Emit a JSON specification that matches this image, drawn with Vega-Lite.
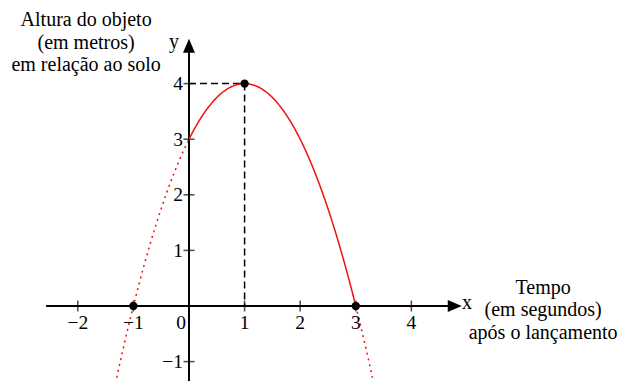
{
  "$schema": "https://vega.github.io/schema/vega-lite/v6.json",
  "width": 621,
  "height": 381,
  "autosize": {"type": "none"},
  "padding": 0,
  "background": "white",
  "config": {"view": {"stroke": null}},
  "datasets": {
    "curve": [
      {"x": -1.3, "y": -1.29, "part": "left", "style": "dotted"},
      {"x": -1.2, "y": -0.84, "part": "left", "style": "dotted"},
      {"x": -1.1, "y": -0.41, "part": "left", "style": "dotted"},
      {"x": -1.0, "y": 0, "part": "left", "style": "dotted"},
      {"x": -0.9, "y": 0.39, "part": "left", "style": "dotted"},
      {"x": -0.8, "y": 0.76, "part": "left", "style": "dotted"},
      {"x": -0.7, "y": 1.11, "part": "left", "style": "dotted"},
      {"x": -0.6, "y": 1.44, "part": "left", "style": "dotted"},
      {"x": -0.5, "y": 1.75, "part": "left", "style": "dotted"},
      {"x": -0.4, "y": 2.04, "part": "left", "style": "dotted"},
      {"x": -0.3, "y": 2.31, "part": "left", "style": "dotted"},
      {"x": -0.2, "y": 2.56, "part": "left", "style": "dotted"},
      {"x": -0.1, "y": 2.79, "part": "left", "style": "dotted"},
      {"x": 0.0, "y": 3, "part": "left", "style": "dotted"},
      {"x": 0.0, "y": 3, "part": "mid", "style": "solid"},
      {"x": 0.1, "y": 3.19, "part": "mid", "style": "solid"},
      {"x": 0.2, "y": 3.36, "part": "mid", "style": "solid"},
      {"x": 0.3, "y": 3.51, "part": "mid", "style": "solid"},
      {"x": 0.4, "y": 3.64, "part": "mid", "style": "solid"},
      {"x": 0.5, "y": 3.75, "part": "mid", "style": "solid"},
      {"x": 0.6, "y": 3.84, "part": "mid", "style": "solid"},
      {"x": 0.7, "y": 3.91, "part": "mid", "style": "solid"},
      {"x": 0.8, "y": 3.96, "part": "mid", "style": "solid"},
      {"x": 0.9, "y": 3.99, "part": "mid", "style": "solid"},
      {"x": 1.0, "y": 4, "part": "mid", "style": "solid"},
      {"x": 1.1, "y": 3.99, "part": "mid", "style": "solid"},
      {"x": 1.2, "y": 3.96, "part": "mid", "style": "solid"},
      {"x": 1.3, "y": 3.91, "part": "mid", "style": "solid"},
      {"x": 1.4, "y": 3.84, "part": "mid", "style": "solid"},
      {"x": 1.5, "y": 3.75, "part": "mid", "style": "solid"},
      {"x": 1.6, "y": 3.64, "part": "mid", "style": "solid"},
      {"x": 1.7, "y": 3.51, "part": "mid", "style": "solid"},
      {"x": 1.8, "y": 3.36, "part": "mid", "style": "solid"},
      {"x": 1.9, "y": 3.19, "part": "mid", "style": "solid"},
      {"x": 2.0, "y": 3, "part": "mid", "style": "solid"},
      {"x": 2.1, "y": 2.79, "part": "mid", "style": "solid"},
      {"x": 2.2, "y": 2.56, "part": "mid", "style": "solid"},
      {"x": 2.3, "y": 2.31, "part": "mid", "style": "solid"},
      {"x": 2.4, "y": 2.04, "part": "mid", "style": "solid"},
      {"x": 2.5, "y": 1.75, "part": "mid", "style": "solid"},
      {"x": 2.6, "y": 1.44, "part": "mid", "style": "solid"},
      {"x": 2.7, "y": 1.11, "part": "mid", "style": "solid"},
      {"x": 2.8, "y": 0.76, "part": "mid", "style": "solid"},
      {"x": 2.9, "y": 0.39, "part": "mid", "style": "solid"},
      {"x": 3.0, "y": 0, "part": "mid", "style": "solid"},
      {"x": 3.0, "y": 0, "part": "right", "style": "dotted"},
      {"x": 3.1, "y": -0.41, "part": "right", "style": "dotted"},
      {"x": 3.2, "y": -0.84, "part": "right", "style": "dotted"},
      {"x": 3.3, "y": -1.29, "part": "right", "style": "dotted"}
    ],
    "axes": [
      {"x": -2.57, "y": 0, "x2": 4.72, "y2": 0},
      {"x": 0, "y": -1.5, "x2": 0, "y2": 4.6}
    ],
    "guides": [
      {"x": 0, "y": 4, "x2": 1, "y2": 4},
      {"x": 1, "y": 4, "x2": 1, "y2": 0}
    ],
    "points": [
      {"x": -1, "y": 0},
      {"x": 1, "y": 4},
      {"x": 3, "y": 0}
    ],
    "xticks": [
      {"x": -2, "y": 0, "label": "−2"},
      {"x": -1, "y": 0, "label": "−1"},
      {"x": 1, "y": 0, "label": "1"},
      {"x": 2, "y": 0, "label": "2"},
      {"x": 3, "y": 0, "label": "3"},
      {"x": 4, "y": 0, "label": "4"}
    ],
    "yticks": [
      {"x": 0, "y": -1, "label": "−1"},
      {"x": 0, "y": 1, "label": "1"},
      {"x": 0, "y": 2, "label": "2"},
      {"x": 0, "y": 3, "label": "3"},
      {"x": 0, "y": 4, "label": "4"}
    ],
    "origin": [{"x": 0, "y": 0, "label": "0"}],
    "xarrow": [{"x": 4.78, "y": 0}],
    "yarrow": [{"x": 0, "y": 4.68}],
    "letters": [
      {"x": 5.0, "y": -0.054, "label": "x"},
      {"x": -0.27, "y": 4.64, "label": "y"}
    ],
    "notes": [
      {"x": -1.85, "y": 5.14, "label": "Altura do objeto\n(em metros)\nem relação ao solo"},
      {"x": 6.37, "y": 0.33, "label": "Tempo\n(em segundos)\napós o lançamento"}
    ]
  },
  "encoding": {
    "x": {"field": "x", "type": "quantitative", "scale": {"domain": [-3.399, 7.77], "nice": false, "zero": false}, "axis": null},
    "y": {"field": "y", "type": "quantitative", "scale": {"domain": [-1.349, 5.504], "nice": false, "zero": false}, "axis": null}
  },
  "layer": [
    {
      "data": {"name": "axes"},
      "mark": {"type": "rule", "color": "black", "strokeWidth": 2},
      "encoding": {"x2": {"field": "x2"}, "y2": {"field": "y2"}}
    },
    {
      "data": {"name": "guides"},
      "mark": {"type": "rule", "color": "black", "strokeWidth": 1.5, "strokeDash": [7, 4]},
      "encoding": {"x2": {"field": "x2"}, "y2": {"field": "y2"}}
    },
    {
      "data": {"name": "xticks"},
      "mark": {"type": "tick", "orient": "vertical", "color": "black", "size": 11, "thickness": 1.5}
    },
    {
      "data": {"name": "yticks"},
      "mark": {"type": "tick", "orient": "horizontal", "color": "black", "size": 11, "thickness": 1.5}
    },
    {
      "data": {"name": "curve"},
      "mark": {"type": "line", "color": "#f01010", "strokeWidth": 1.5, "interpolate": "monotone"},
      "encoding": {
        "detail": {"field": "part"},
        "strokeDash": {"field": "style", "type": "nominal", "scale": {"domain": ["solid", "dotted"], "range": [[1, 0], [2, 4]]}, "legend": null},
        "strokeWidth": {"field": "style", "type": "nominal", "scale": {"domain": ["solid", "dotted"], "range": [1.5, 2]}, "legend": null}
      }
    },
    {
      "data": {"name": "points"},
      "mark": {"type": "point", "shape": "circle", "filled": true, "color": "black", "opacity": 1, "size": 70}
    },
    {
      "data": {"name": "xarrow"},
      "mark": {"type": "point", "shape": "M-1,-0.85L1,0L-1,0.85Z", "filled": true, "color": "black", "opacity": 1, "size": 196}
    },
    {
      "data": {"name": "yarrow"},
      "mark": {"type": "point", "shape": "M0,-1L0.85,1L-0.85,1Z", "filled": true, "color": "black", "opacity": 1, "size": 196}
    },
    {
      "data": {"name": "xticks"},
      "mark": {"type": "text", "font": "Liberation Serif", "fontSize": 19.5, "align": "center", "baseline": "alphabetic", "dy": 23, "color": "black"},
      "encoding": {"text": {"field": "label"}}
    },
    {
      "data": {"name": "yticks"},
      "mark": {"type": "text", "font": "Liberation Serif", "fontSize": 19.5, "align": "right", "baseline": "alphabetic", "dx": -6, "dy": 6.5, "color": "black"},
      "encoding": {"text": {"field": "label"}}
    },
    {
      "data": {"name": "origin"},
      "mark": {"type": "text", "font": "Liberation Serif", "fontSize": 19.5, "align": "right", "baseline": "alphabetic", "dx": -3, "dy": 23, "color": "black"},
      "encoding": {"text": {"field": "label"}}
    },
    {
      "data": {"name": "letters"},
      "mark": {"type": "text", "font": "Liberation Serif", "fontSize": 20, "align": "center", "baseline": "alphabetic", "color": "black"},
      "encoding": {"text": {"field": "label"}}
    },
    {
      "data": {"name": "notes"},
      "mark": {"type": "text", "font": "Liberation Serif", "fontSize": 20, "align": "center", "baseline": "middle", "lineBreak": "\n", "lineHeight": 22.5, "color": "black"},
      "encoding": {"text": {"field": "label"}}
    }
  ]
}
